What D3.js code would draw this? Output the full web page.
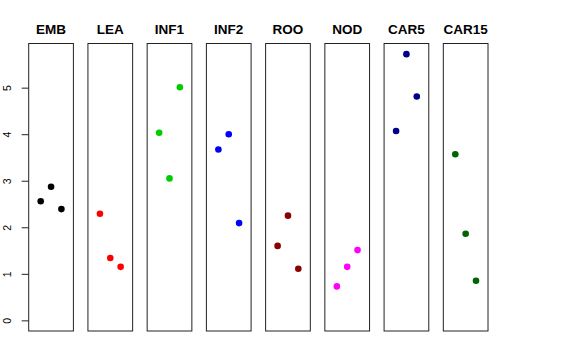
<!DOCTYPE html>
<html><head><meta charset="utf-8">
<script src="https://cdn.jsdelivr.net/npm/d3@7"></script>
<style>body{margin:0;background:#fff}svg{display:block}</style>
</head><body>
<script>
const categories = ["EMB","LEA","INF1","INF2","ROO","NOD","CAR5","CAR15"];
const colors = ["#000000","#FF0000","#00CD00","#0000FF","#8B0000","#FF00FF","#00008B","#006400"];
const values = [
  [2.56, 2.87, 2.39],
  [2.29, 1.34, 1.15],
  [4.03, 3.05, 5.01],
  [3.67, 4.00, 2.09],
  [1.60, 2.25, 1.11],
  [0.73, 1.15, 1.51],
  [4.07, 5.72, 4.81],
  [3.57, 1.86, 0.85]
];
const yTicks = [0,1,2,3,4,5];

(function(){
const W = 576, H = 360;
const svg = d3.select("body").append("svg").attr("width",W).attr("height",H);

const pTop = 43.5, pBottom = 331, firstLeft = 28.7, step = 59.23, pw = 44.7;
const ymax = d3.max(values.flat()), ext = 0.04*ymax;
const y = d3.scaleLinear().domain([0-ext, ymax+ext]).range([pBottom, pTop]);
const x = d3.scaleLinear().domain([-0.16, 4.16]).range([0, pw]);
const panelLeft = d3.scaleLinear().domain([0,1]).range([firstLeft, firstLeft+step]);

categories.forEach((c,i)=>{
  const g = svg.append("g").attr("transform",`translate(${panelLeft(i)},0)`);
  g.append("rect").attr("x",0).attr("y",pTop).attr("width",pw).attr("height",pBottom-pTop)
    .attr("fill","none").attr("stroke","#222").attr("stroke-width",1);
  g.append("text").attr("x",pw/2).attr("y",34).attr("text-anchor","middle")
    .attr("font-family","Liberation Sans, Arial, sans-serif").attr("font-weight","bold")
    .attr("font-size",13.5).text(c);
  g.selectAll("circle").data(values[i]).join("circle")
    .attr("cx",(d,j)=>x(j+1)).attr("cy",d=>y(d)).attr("r",3.3).attr("fill",colors[i]);
});

const axis = d3.axisLeft(y).tickValues(yTicks).tickSize(7).tickPadding(4).tickFormat(d3.format("d"));
const ag = svg.append("g").attr("transform",`translate(${firstLeft},0)`).call(axis);
ag.select(".domain").attr("stroke","none");
ag.selectAll(".tick line").attr("stroke","#222");
ag.selectAll(".tick text").attr("font-family","Liberation Sans, Arial, sans-serif").attr("font-size",10.5)
  .attr("fill","#000").attr("text-anchor","middle").attr("dy",0)
  .attr("transform","rotate(-90)").attr("x",0).attr("y",-17.5);
})();
</script>
</body></html>
